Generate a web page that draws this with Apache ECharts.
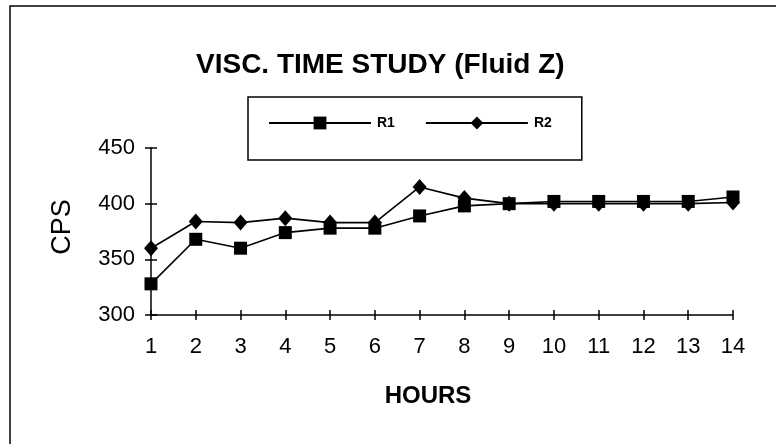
<!DOCTYPE html>
<html>
<head>
<meta charset="utf-8">
<script src="https://cdn.jsdelivr.net/npm/echarts@6/dist/echarts.min.js"></script>
<style>html,body{margin:0;padding:0;background:#fff;}#c{width:776px;height:444px;}</style>
</head>
<body>
<div id="c"></div>
<script>
var hours = ['1','2','3','4','5','6','7','8','9','10','11','12','13','14'];
var r1 = [328, 368, 360, 374, 378, 378, 389, 398, 400, 402, 402, 402, 402, 406];
var r2 = [360, 384, 383, 387, 383, 383, 415, 405, 400, 400, 400, 400, 400, 401];
var yTicks = {min: 300, max: 450, interval: 50};

var FONT = '"Liberation Sans", Arial, sans-serif';
var chart = echarts.init(document.getElementById('c'), null, {renderer: 'canvas'});
var lineStyle = {color: '#000', width: 1.6};
chart.setOption({
  animation: false,
  backgroundColor: '#fff',
  title: {
    text: 'VISC. TIME STUDY (Fluid Z)',
    left: 196, top: 51, padding: 0,
    textStyle: {fontFamily: FONT, fontSize: 28, fontWeight: 'bold', color: '#000'}
  },
  legend: {
    left: 248, top: 97,
    padding: [19, 30, 30, 20],
    borderColor: '#000', borderWidth: 1.5,
    itemWidth: 102, itemHeight: 16, itemGap: 30,
    textStyle: {fontFamily: FONT, fontSize: 14, fontWeight: 'bold', color: '#000', padding: [0,0,0,1]},
    data: ['R1', 'R2']
  },
  grid: {left: 151, right: 43, top: 148, bottom: 129, containLabel: false},
  xAxis: [{
    type: 'category', data: hours, boundaryGap: false,
    axisLine: {lineStyle: {color: '#000', width: 1.5}},
    axisTick: {alignWithLabel: true, length: 5, lineStyle: {color: '#000', width: 1.5}},
    axisLabel: {fontFamily: FONT, fontSize: 22, color: '#000', margin: 21, interval: 0},
    splitLine: {show: false}
  }, {
    type: 'category', data: hours, boundaryGap: false, position: 'bottom',
    axisLine: {show: false},
    axisTick: {inside: true, length: 5, lineStyle: {color: '#000', width: 1.5}},
    axisLabel: {show: false}, splitLine: {show: false}
  }],
  yAxis: [{
    type: 'value', min: yTicks.min, max: yTicks.max, interval: yTicks.interval,
    axisLine: {show: true, lineStyle: {color: '#000', width: 1.5}},
    axisTick: {show: true, length: 6, lineStyle: {color: '#000', width: 1.5}},
    axisLabel: {fontFamily: FONT, fontSize: 22, color: '#000', margin: 16},
    splitLine: {show: false}
  }, {
    type: 'value', min: yTicks.min, max: yTicks.max, interval: yTicks.interval, position: 'left',
    axisLine: {show: false},
    axisTick: {show: true, inside: true, length: 6, lineStyle: {color: '#000', width: 1.5}},
    axisLabel: {show: false}, splitLine: {show: false}
  }],
  graphic: [
    {type: 'rect', shape: {x: 10, y: 6, width: 800, height: 500}, style: {fill: null, stroke: '#000', lineWidth: 1.5}, silent: true, z: -1},
    {type: 'text', x: 428, y: 396, style: {text: 'HOURS', font: 'bold 24px ' + FONT, fill: '#000', textAlign: 'center', textVerticalAlign: 'middle'}},
    {type: 'text', x: 63, y: 227, rotation: Math.PI / 2, style: {text: 'CPS', font: '27px ' + FONT, fill: '#000', textAlign: 'center', textVerticalAlign: 'middle'}}
  ],
  series: [{
    name: 'R1', type: 'line', data: r1,
    symbol: 'rect', symbolSize: 13,
    lineStyle: lineStyle, itemStyle: {color: '#000'}
  }, {
    name: 'R2', type: 'line', data: r2,
    symbol: 'diamond', symbolSize: [14, 16],
    lineStyle: lineStyle, itemStyle: {color: '#000'}
  }]
});
</script>
</body>
</html>
